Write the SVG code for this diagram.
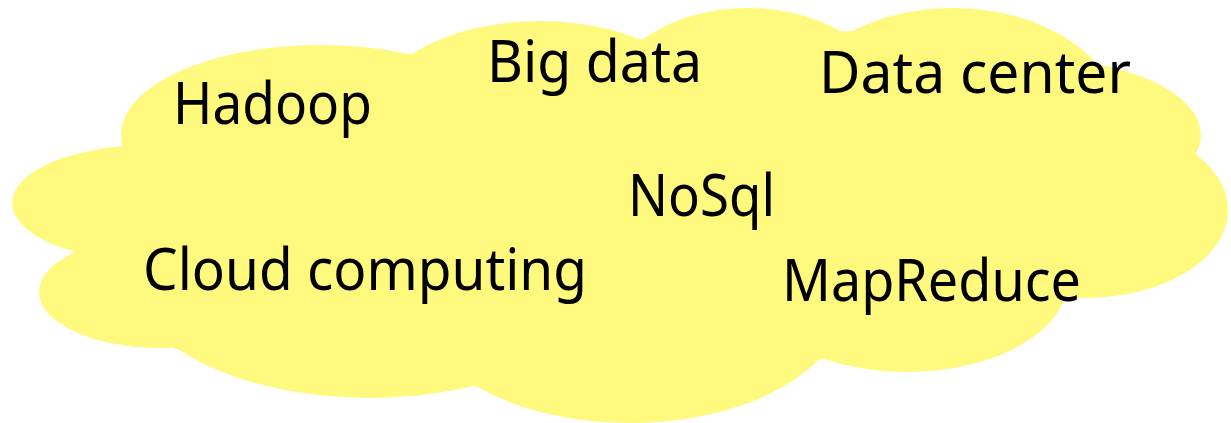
<svg xmlns="http://www.w3.org/2000/svg" width="1231" height="423" viewBox="0 0 1231 423">
  <style>
    .cloud { fill: #FFFA7D; stroke: none; }
    .lbl { font-family: "Noto Sans", "Liberation Sans", Arial, sans-serif; font-size: 58px; fill: #000000; }
  </style>
  <rect x="0" y="0" width="1231" height="423" fill="#FFFFFF"/>
  <g id="cloud">
    <ellipse class="cloud" cx="321" cy="135" rx="200" ry="90"/>
    <ellipse class="cloud" cx="540" cy="120" rx="172" ry="99"/>
    <ellipse class="cloud" cx="748" cy="110" rx="146" ry="102"/>
    <ellipse class="cloud" cx="953" cy="120" rx="166" ry="112"/>
    <ellipse class="cloud" cx="1030" cy="135" rx="171" ry="77"/>
    <ellipse class="cloud" cx="1085" cy="210" rx="143" ry="88"/>
    <ellipse class="cloud" cx="907" cy="280" rx="161" ry="92"/>
    <ellipse class="cloud" cx="630" cy="301" rx="215" ry="122"/>
    <ellipse class="cloud" cx="370" cy="270" rx="244" ry="128"/>
    <ellipse class="cloud" cx="160" cy="292" rx="121" ry="56"/>
    <ellipse class="cloud" cx="150" cy="203" rx="138" ry="58"/>
    <polygon class="cloud" points="122,146 407,56 643,39 852,31 1092,63 1189,155 1063,302 816,361 477,385 175,349 72,252"/>
  </g>
  <g id="node-hadoop"><text class="lbl" x="173" y="124" textLength="199" lengthAdjust="spacingAndGlyphs">Hadoop</text></g>
  <g id="node-bigdata"><text class="lbl" x="487" y="82" textLength="215" lengthAdjust="spacingAndGlyphs">Big data</text></g>
  <g id="node-datacenter"><text class="lbl" x="819" y="93" textLength="312" lengthAdjust="spacingAndGlyphs">Data center</text></g>
  <g id="node-nosql"><text class="lbl" x="628" y="216" textLength="147" lengthAdjust="spacingAndGlyphs">NoSql</text></g>
  <g id="node-cloudcomputing"><text class="lbl" x="143" y="290" textLength="444" lengthAdjust="spacingAndGlyphs">Cloud computing</text></g>
  <g id="node-mapreduce"><text class="lbl" x="782" y="301" textLength="299" lengthAdjust="spacingAndGlyphs">MapReduce</text></g>
</svg>
